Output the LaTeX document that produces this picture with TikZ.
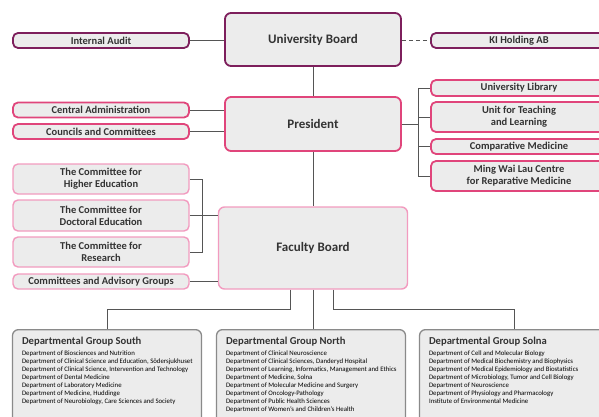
\documentclass[tikz,border=0pt]{standalone}
\usepackage{fontspec}
\setmainfont{Carlito}
\usetikzlibrary{positioning}
\definecolor{plum}{HTML}{7D1F5C}
\definecolor{kipink}{HTML}{E0457B}
\definecolor{softpink}{HTML}{F29BBF}
\definecolor{boxfill}{HTML}{ECECEC}
\definecolor{frame}{HTML}{8A8A8A}
\definecolor{ink}{HTML}{333333}
\definecolor{wire}{HTML}{555555}
\newcommand{\bigfont}{\fontsize{13}{14}\selectfont\bfseries}
\newcommand{\smallfont}{\fontsize{10.5}{12}\selectfont\bfseries}

\begin{document}
\begin{tikzpicture}[
  x=1pt, y=-1pt,
  box/.style={draw, fill=boxfill, text=ink, align=center, inner sep=1pt},
  mainbox/.style={box, rounded corners=6pt, line width=1.8pt,
                  minimum width=176pt, font=\bigfont},
  unit/.style={box, rounded corners=5pt, line width=1.8pt,
               minimum width=176pt, font=\smallfont},
  groupbox/.style={draw=frame, fill=boxfill, rounded corners=6pt,
                   line width=1.3pt, anchor=north, minimum height=120pt},
  grouptext/.style={anchor=north west, inner sep=0pt, align=left, text=black,
                    font=\fontsize{6.8}{8}\selectfont},
  link/.style={draw=wire, line width=0.9pt}
]
  \useasboundingbox (0,0) rectangle (599,417);
  \clip (0,0) rectangle (599,417);

  % board level
  \node[mainbox, draw=plum, minimum height=53pt] (uboard) at (313,39.5) {University Board};
  \node[unit, draw=plum, minimum height=15pt] (audit) at (101,40.5) {Internal Audit};
  \node[unit, draw=plum, minimum height=15pt] (kiab) at (519,40.5) {KI Holding AB};

  % president level
  \node[mainbox, draw=kipink, minimum height=54pt] (pres) at (313,124) {President};
  \node[unit, draw=kipink, minimum height=15pt] (admin) at (101,110) {Central Administration};
  \node[unit, draw=kipink, minimum height=15pt] (councils) at (101,131.5) {Councils and Committees};
  \node[unit, draw=kipink, minimum height=16pt] (library) at (519,88) {University Library};
  \node[unit, draw=kipink, minimum height=30pt] (teaching) at (519,117) {Unit for Teaching\\and Learning};
  \node[unit, draw=kipink, minimum height=15pt] (compmed) at (519,146.5) {Comparative Medicine};
  \node[unit, draw=kipink, minimum height=30pt] (mwlc) at (519,176) {Ming Wai Lau Centre\\for Reparative Medicine};

  % faculty level
  \node[mainbox, draw=softpink, line width=1.4pt, minimum width=189pt,
        minimum height=82pt] (faculty) at (313,248) {Faculty Board};
  \node[unit, draw=softpink, line width=1.4pt, minimum height=30pt] (higher) at (101,179) {The Committee for\\Higher Education};
  \node[unit, draw=softpink, line width=1.4pt, minimum height=31pt] (doctoral) at (101,215.5) {The Committee for\\Doctoral Education};
  \node[unit, draw=softpink, line width=1.4pt, minimum height=30pt] (research) at (101,252) {The Committee for\\Research};
  \node[unit, draw=softpink, line width=1.4pt, minimum height=15pt] (advisory) at (101,281.5) {Committees and Advisory Groups};

  % departmental groups
  \node[groupbox, minimum width=189pt] (south) at (107,329) {};
  \node[groupbox, minimum width=189pt] (north) at (311,329) {};
  \node[groupbox, minimum width=189pt] (solna) at (514,329) {};
  \node[grouptext] (southtxt) at ([shift={(10pt,-8pt)}]south.north west)
  {{\fontsize{10.6}{12}\selectfont\bfseries\color{ink} Departmental Group South}\\[3pt]
   Department of Biosciences and Nutrition\\
   Department of Clinical Science and Education, Södersjukhuset\\
   Department of Clinical Science, Intervention and Technology\\
   Department of Dental Medicine\\
   Department of Laboratory Medicine\\
   Department of Medicine, Huddinge\\
   Department of Neurobiology, Care Sciences and Society};
  \node[grouptext] (northtxt) at ([shift={(10pt,-8pt)}]north.north west)
  {{\fontsize{10.6}{12}\selectfont\bfseries\color{ink} Departmental Group North}\\[3pt]
   Department of Clinical Neuroscience\\
   Department of Clinical Sciences, Danderyd Hospital\\
   Department of Learning, Informatics, Management and Ethics\\
   Department of Medicine, Solna\\
   Department of Molecular Medicine and Surgery\\
   Department of Oncology-Pathology\\
   Department of Public Health Sciences\\
   Department of Women's and Children's Health};
  \node[grouptext] (solnatxt) at ([shift={(10pt,-8pt)}]solna.north west)
  {{\fontsize{10.6}{12}\selectfont\bfseries\color{ink} Departmental Group Solna}\\[3pt]
   Department of Cell and Molecular Biology\\
   Department of Medical Biochemistry and Biophysics\\
   Department of Medical Epidemiology and Biostatistics\\
   Department of Microbiology, Tumor and Cell Biology\\
   Department of Neuroscience\\
   Department of Physiology and Pharmacology\\
   Institute of Environmental Medicine};

  % bracket and bus positions
  \coordinate (rbrk) at (418,0);
  \coordinate (lbrk) at (202,0);
  \coordinate (bus) at (0,309);

  % connectors
  \draw[link] (audit.east) -- (audit.east -| uboard.west);
  \draw[link, dash pattern=on 4pt off 3pt] (kiab.west -| uboard.east) -- (kiab.west);
  \draw[link] (uboard) -- (pres);
  \draw[link] (admin.east) -- (admin.east -| pres.west);
  \draw[link] (councils.east) -- (councils.east -| pres.west);
  \draw[link] (pres.east) -- (pres.east -| rbrk);
  \draw[link] (library.west -| rbrk) -- (mwlc.west -| rbrk);
  \foreach \n in {library,teaching,compmed,mwlc}
    \draw[link] (\n.west -| rbrk) -- (\n.west);
  \draw[link] (pres) -- (faculty);
  \draw[link] (higher.east) -- (higher.east -| lbrk) -- (research.east -| lbrk) -- (research.east);
  \draw[link] (doctoral.east) -- (doctoral.east -| faculty.west);
  \draw[link] (advisory.east) -- (advisory.east -| faculty.west);
  \draw[link] ([xshift=-23pt]faculty.south) -- ([xshift=-23pt]faculty.south |- bus) -| (south.north);
  \draw[link] (faculty.south) -- (faculty.south |- north.north);
  \draw[link] ([xshift=20pt]faculty.south) -- ([xshift=20pt]faculty.south |- bus) -| (solna.north);
\end{tikzpicture}
\end{document}
